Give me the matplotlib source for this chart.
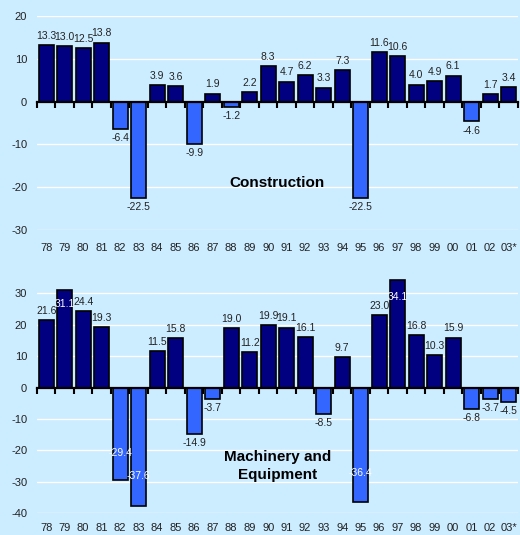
import numpy as np
import matplotlib
matplotlib.use("Agg")
import matplotlib.pyplot as plt
from matplotlib.transforms import offset_copy

plt.rcParams['font.family'] = ['Liberation Sans', 'DejaVu Sans']
plt.rcParams['axes.unicode_minus'] = False

years = ["78", "79", "80", "81", "82", "83", "84", "85", "86", "87", "88", "89", "90",
         "91", "92", "93", "94", "95", "96", "97", "98", "99", "00", "01", "02", "03*"]
construction = [13.3, 13.0, 12.5, 13.8, -6.4, -22.5, 3.9, 3.6, -9.9, 1.9, -1.2, 2.2, 8.3,
                4.7, 6.2, 3.3, 7.3, -22.5, 11.6, 10.6, 4.0, 4.9, 6.1, -4.6, 1.7, 3.4]
machinery = [21.6, 31.1, 24.4, 19.3, -29.4, -37.6, 11.5, 15.8, -14.9, -3.7, 19.0, 11.2, 19.9,
             19.1, 16.1, -8.5, 9.7, -36.4, 23.0, 34.1, 16.8, 10.3, 15.9, -6.8, -3.7, -4.5]

bg = "#CCECFF"
dark = "#000080"
light = "#3366FF"

fig = plt.figure(figsize=(5.2, 5.35), dpi=100, facecolor=bg)
ax1 = fig.add_axes([0.071, 0.570, 0.925, 0.400])
ax2 = fig.add_axes([0.071, 0.041, 0.925, 0.440])


def draw(ax, vals, ylim, yticks, title, ty, lab_off, inside=None):
    inside = inside or {}
    x = np.arange(len(vals))
    ax.set_facecolor(bg)
    cols = [dark if v >= 0 else light for v in vals]
    ax.bar(x, vals, width=0.82, color=cols, edgecolor="black", linewidth=1.2, zorder=3)
    ax.set_xlim(-0.5, len(vals) - 0.5)
    ax.set_ylim(*ylim)
    ax.set_yticks(yticks)
    for t in yticks:
        if t != 0:
            ax.axhline(t, color="white", lw=1, zorder=1)
    for s in ["left", "right", "top"]:
        ax.spines[s].set_visible(False)
    ax.spines["bottom"].set_position(("data", 0))
    ax.spines["bottom"].set_linewidth(1.6)
    ax.spines["bottom"].set_zorder(4)
    ax.set_xticks(np.arange(len(vals) + 1) - 0.5)
    ax.set_xticklabels([])
    ax.tick_params(axis="x", direction="out", length=4, width=1.5, color="black")
    ax.tick_params(axis="y", length=0, labelsize=8, colors="#222222", pad=7)
    # category labels along the bottom of the axes
    tr = offset_copy(ax.get_xaxis_transform(), fig=fig, x=0, y=lab_off, units="points")
    for i, y in enumerate(years):
        ax.text(i, 0, y, transform=tr, ha="center", va="center",
                fontsize=8, color="#222222")
    # value labels
    for i, v in enumerate(vals):
        if i in inside:
            tr = offset_copy(ax.transData, fig=fig, x=0, y=inside[i], units="points")
            ax.text(i, v, f"{v:.1f}", transform=tr, ha="center", va="center",
                    fontsize=7.5, color="white", zorder=5)
        elif v >= 0:
            tr = offset_copy(ax.transData, fig=fig, x=0, y=3, units="points")
            ax.text(i, v, f"{v:.1f}", transform=tr, ha="center", va="bottom",
                    fontsize=7.5, color="#222222", zorder=5)
        else:
            tr = offset_copy(ax.transData, fig=fig, x=0, y=-3, units="points")
            ax.text(i, v, f"{v:.1f}", transform=tr, ha="center", va="top",
                    fontsize=7.5, color="#222222", zorder=5)
    ax.text(0.5, ty, title, transform=ax.transAxes, ha="center", va="center",
            fontsize=11, fontweight="bold", linespacing=1.45, zorder=5)


draw(ax1, construction, (-30, 20), [20, 10, 0, -10, -20, -30], "Construction", 0.22, -13)
draw(ax2, machinery, (-40, 35), [30, 20, 10, 0, -10, -20, -30, -40],
     "Machinery and\nEquipment", 0.20, -10.5,
     inside={1: -10, 19: -12, 4: 19, 5: 21, 17: 21})

fig.savefig("out.png", dpi=100, facecolor=bg)
